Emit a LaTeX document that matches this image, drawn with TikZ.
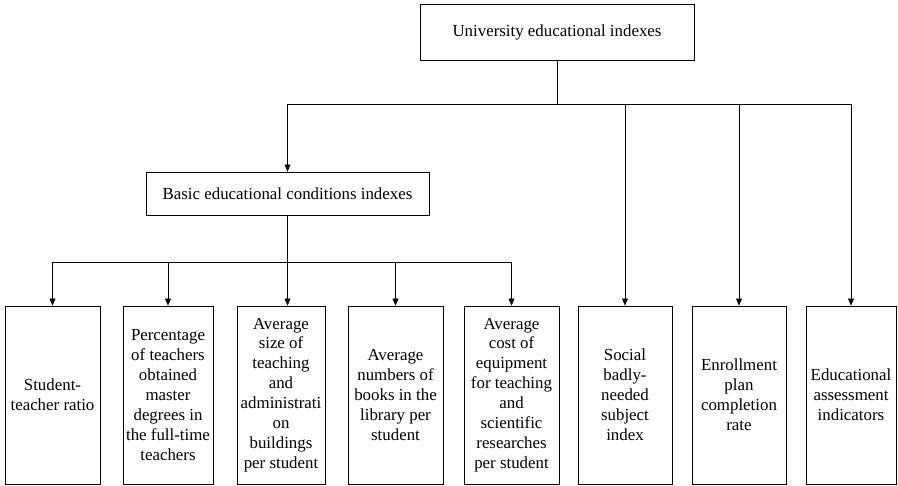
\documentclass[tikz,border=0pt]{standalone}
\usepackage{fontspec}
\setmainfont{Liberation Serif}
\usetikzlibrary{arrows.meta}

\tikzset{
  box/.style={draw, line width=0.6pt, align=center, inner sep=1pt, font=\fontsize{14.4}{17}\selectfont},
  leaf/.style={box, minimum height=5.34cm}
}

\begin{document}
\begin{tikzpicture}[x=0.03cm, y=-0.03cm, >={Triangle[length=6pt,width=5pt]}, line width=0.6pt]
    	\useasboundingbox (0,0) rectangle (898,486);

    	% top and second level
    	\node[box, minimum width=8.22cm, minimum height=1.68cm] (top) at (557,32) {University educational indexes};
    	\node[box, minimum width=8.49cm, minimum height=1.29cm] (basic) at (287.5,193.5) {Basic educational conditions indexes};

    	% bottom row
    	\node[leaf, minimum width=2.85cm] (b1) at (52.5,395) {Student-\\teacher ratio};
    	\node[leaf, minimum width=2.7cm] (b2) at (168,395) {Percentage\\of teachers\\obtained\\master\\degrees in\\the full-time\\teachers};
    	\node[leaf, minimum width=2.64cm] (b3) at (281,395) {Average\\size of\\teaching\\and\\administrati\\on\\buildings\\per student};
    	\node[leaf, minimum width=2.85cm] (b4) at (395.5,395) {Average\\numbers of\\books in the\\library per\\student};
    	\node[leaf, minimum width=2.85cm] (b5) at (511.5,395) {Average\\cost of\\equipment\\for teaching\\and\\scientific\\researches\\per student};
    	\node[leaf, minimum width=2.82cm] (b6) at (625,395) {Social\\badly-\\needed\\subject\\index};
    	\node[leaf, minimum width=2.82cm] (b7) at (739,395) {Enrollment\\plan\\completion\\rate};
    	\node[leaf, minimum width=2.7cm] (b8) at (851,395) {Educational\\assessment\\indicators};

    	% junctions
    	\coordinate (j1) at (557,104);
    	\coordinate (j2) at (287.5,262);

    	% top to second level and right leaves
    	\draw (top) -- (j1);
    	\draw [->] (j1) -| (basic);
    	\draw [->] (j1) -| (b6);
    	\draw [->] (j1) -| (b7);
    	\draw [->] (j1) -| (b8);

    	% basic to its leaves
    	\draw (basic) -- (j2);
    	\draw [->] (j2) -| (b1);
    	\draw [->] (j2) -| (b2);
    	\draw [->] (j2) -- (j2 |- b3.north);
    	\draw [->] (j2) -| (b4);
    	\draw [->] (j2) -| (b5);
      \end{tikzpicture}
\end{document}
